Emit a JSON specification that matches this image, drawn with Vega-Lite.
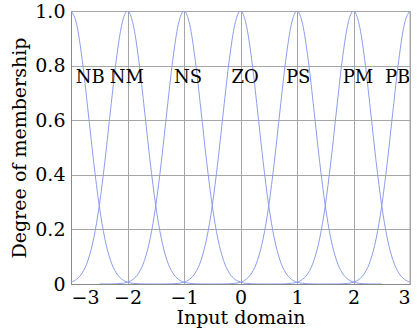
{
  "$schema": "https://vega.github.io/schema/vega-lite/v6.json",
  "width": 339,
  "height": 273,
  "autosize": {"type": "none"},
  "padding": {"left": 71, "top": 11, "right": 7, "bottom": 50},
  "background": "white",
  "config": {
    "view": {"stroke": null},
    "font": "DejaVu Serif"
  },
  "datasets": {
    "labels": [
      {"t": "NB", "x": -2.66, "y": 0.756},
      {"t": "NM", "x": -2.01, "y": 0.756},
      {"t": "NS", "x": -0.93, "y": 0.756},
      {"t": "ZO", "x": 0.08, "y": 0.756},
      {"t": "PS", "x": 1.02, "y": 0.756},
      {"t": "PM", "x": 2.08, "y": 0.756},
      {"t": "PB", "x": 2.78, "y": 0.756}
    ],
    "curves": [
      {"s":"NB","x":-3,"y":1},{"s":"NB","x":-2.9,"y":0.9512},{"s":"NB","x":-2.8,"y":0.8187},{"s":"NB","x":-2.7,"y":0.6376},{"s":"NB","x":-2.6,"y":0.4493},{"s":"NB","x":-2.5,"y":0.2865},{"s":"NB","x":-2.4,"y":0.1653},{"s":"NB","x":-2.3,"y":0.0863},{"s":"NB","x":-2.2,"y":0.0408},{"s":"NB","x":-2.1,"y":0.0174},{"s":"NB","x":-2,"y":0.0067},{"s":"NB","x":-1.9,"y":0.0024},{"s":"NB","x":-1.8,"y":0.0007},{"s":"NB","x":-1.7,"y":0.0002},{"s":"NB","x":-1.6,"y":0.0001},{"s":"NB","x":-1.5,"y":0},

      {"s":"NM","x":-3,"y":0.0067},{"s":"NM","x":-2.9,"y":0.0174},{"s":"NM","x":-2.8,"y":0.0408},{"s":"NM","x":-2.7,"y":0.0863},{"s":"NM","x":-2.6,"y":0.1653},{"s":"NM","x":-2.5,"y":0.2865},{"s":"NM","x":-2.4,"y":0.4493},{"s":"NM","x":-2.3,"y":0.6376},{"s":"NM","x":-2.2,"y":0.8187},{"s":"NM","x":-2.1,"y":0.9512},{"s":"NM","x":-2,"y":1},{"s":"NM","x":-1.9,"y":0.9512},{"s":"NM","x":-1.8,"y":0.8187},{"s":"NM","x":-1.7,"y":0.6376},{"s":"NM","x":-1.6,"y":0.4493},{"s":"NM","x":-1.5,"y":0.2865},{"s":"NM","x":-1.4,"y":0.1653},{"s":"NM","x":-1.3,"y":0.0863},{"s":"NM","x":-1.2,"y":0.0408},{"s":"NM","x":-1.1,"y":0.0174},{"s":"NM","x":-1,"y":0.0067},{"s":"NM","x":-0.9,"y":0.0024},{"s":"NM","x":-0.8,"y":0.0007},{"s":"NM","x":-0.7,"y":0.0002},{"s":"NM","x":-0.6,"y":0.0001},{"s":"NM","x":-0.5,"y":0},

      {"s":"NS","x":-2.5,"y":0},{"s":"NS","x":-2.4,"y":0.0001},{"s":"NS","x":-2.3,"y":0.0002},{"s":"NS","x":-2.2,"y":0.0007},{"s":"NS","x":-2.1,"y":0.0024},{"s":"NS","x":-2,"y":0.0067},{"s":"NS","x":-1.9,"y":0.0174},{"s":"NS","x":-1.8,"y":0.0408},{"s":"NS","x":-1.7,"y":0.0863},{"s":"NS","x":-1.6,"y":0.1653},{"s":"NS","x":-1.5,"y":0.2865},{"s":"NS","x":-1.4,"y":0.4493},{"s":"NS","x":-1.3,"y":0.6376},{"s":"NS","x":-1.2,"y":0.8187},{"s":"NS","x":-1.1,"y":0.9512},{"s":"NS","x":-1,"y":1},{"s":"NS","x":-0.9,"y":0.9512},{"s":"NS","x":-0.8,"y":0.8187},{"s":"NS","x":-0.7,"y":0.6376},{"s":"NS","x":-0.6,"y":0.4493},{"s":"NS","x":-0.5,"y":0.2865},{"s":"NS","x":-0.4,"y":0.1653},{"s":"NS","x":-0.3,"y":0.0863},{"s":"NS","x":-0.2,"y":0.0408},{"s":"NS","x":-0.1,"y":0.0174},{"s":"NS","x":0,"y":0.0067},{"s":"NS","x":0.1,"y":0.0024},{"s":"NS","x":0.2,"y":0.0007},{"s":"NS","x":0.3,"y":0.0002},{"s":"NS","x":0.4,"y":0.0001},{"s":"NS","x":0.5,"y":0},

      {"s":"ZO","x":-1.5,"y":0},{"s":"ZO","x":-1.4,"y":0.0001},{"s":"ZO","x":-1.3,"y":0.0002},{"s":"ZO","x":-1.2,"y":0.0007},{"s":"ZO","x":-1.1,"y":0.0024},{"s":"ZO","x":-1,"y":0.0067},{"s":"ZO","x":-0.9,"y":0.0174},{"s":"ZO","x":-0.8,"y":0.0408},{"s":"ZO","x":-0.7,"y":0.0863},{"s":"ZO","x":-0.6,"y":0.1653},{"s":"ZO","x":-0.5,"y":0.2865},{"s":"ZO","x":-0.4,"y":0.4493},{"s":"ZO","x":-0.3,"y":0.6376},{"s":"ZO","x":-0.2,"y":0.8187},{"s":"ZO","x":-0.1,"y":0.9512},{"s":"ZO","x":0,"y":1},{"s":"ZO","x":0.1,"y":0.9512},{"s":"ZO","x":0.2,"y":0.8187},{"s":"ZO","x":0.3,"y":0.6376},{"s":"ZO","x":0.4,"y":0.4493},{"s":"ZO","x":0.5,"y":0.2865},{"s":"ZO","x":0.6,"y":0.1653},{"s":"ZO","x":0.7,"y":0.0863},{"s":"ZO","x":0.8,"y":0.0408},{"s":"ZO","x":0.9,"y":0.0174},{"s":"ZO","x":1,"y":0.0067},{"s":"ZO","x":1.1,"y":0.0024},{"s":"ZO","x":1.2,"y":0.0007},{"s":"ZO","x":1.3,"y":0.0002},{"s":"ZO","x":1.4,"y":0.0001},{"s":"ZO","x":1.5,"y":0},

      {"s":"PS","x":-0.5,"y":0},{"s":"PS","x":-0.4,"y":0.0001},{"s":"PS","x":-0.3,"y":0.0002},{"s":"PS","x":-0.2,"y":0.0007},{"s":"PS","x":-0.1,"y":0.0024},{"s":"PS","x":0,"y":0.0067},{"s":"PS","x":0.1,"y":0.0174},{"s":"PS","x":0.2,"y":0.0408},{"s":"PS","x":0.3,"y":0.0863},{"s":"PS","x":0.4,"y":0.1653},{"s":"PS","x":0.5,"y":0.2865},{"s":"PS","x":0.6,"y":0.4493},{"s":"PS","x":0.7,"y":0.6376},{"s":"PS","x":0.8,"y":0.8187},{"s":"PS","x":0.9,"y":0.9512},{"s":"PS","x":1,"y":1},{"s":"PS","x":1.1,"y":0.9512},{"s":"PS","x":1.2,"y":0.8187},{"s":"PS","x":1.3,"y":0.6376},{"s":"PS","x":1.4,"y":0.4493},{"s":"PS","x":1.5,"y":0.2865},{"s":"PS","x":1.6,"y":0.1653},{"s":"PS","x":1.7,"y":0.0863},{"s":"PS","x":1.8,"y":0.0408},{"s":"PS","x":1.9,"y":0.0174},{"s":"PS","x":2,"y":0.0067},{"s":"PS","x":2.1,"y":0.0024},{"s":"PS","x":2.2,"y":0.0007},{"s":"PS","x":2.3,"y":0.0002},{"s":"PS","x":2.4,"y":0.0001},{"s":"PS","x":2.5,"y":0},

      {"s":"PM","x":0.5,"y":0},{"s":"PM","x":0.6,"y":0.0001},{"s":"PM","x":0.7,"y":0.0002},{"s":"PM","x":0.8,"y":0.0007},{"s":"PM","x":0.9,"y":0.0024},{"s":"PM","x":1,"y":0.0067},{"s":"PM","x":1.1,"y":0.0174},{"s":"PM","x":1.2,"y":0.0408},{"s":"PM","x":1.3,"y":0.0863},{"s":"PM","x":1.4,"y":0.1653},{"s":"PM","x":1.5,"y":0.2865},{"s":"PM","x":1.6,"y":0.4493},{"s":"PM","x":1.7,"y":0.6376},{"s":"PM","x":1.8,"y":0.8187},{"s":"PM","x":1.9,"y":0.9512},{"s":"PM","x":2,"y":1},{"s":"PM","x":2.1,"y":0.9512},{"s":"PM","x":2.2,"y":0.8187},{"s":"PM","x":2.3,"y":0.6376},{"s":"PM","x":2.4,"y":0.4493},{"s":"PM","x":2.5,"y":0.2865},{"s":"PM","x":2.6,"y":0.1653},{"s":"PM","x":2.7,"y":0.0863},{"s":"PM","x":2.8,"y":0.0408},{"s":"PM","x":2.9,"y":0.0174},{"s":"PM","x":3,"y":0.0067},

      {"s":"PB","x":1.5,"y":0},{"s":"PB","x":1.6,"y":0.0001},{"s":"PB","x":1.7,"y":0.0002},{"s":"PB","x":1.8,"y":0.0007},{"s":"PB","x":1.9,"y":0.0024},{"s":"PB","x":2,"y":0.0067},{"s":"PB","x":2.1,"y":0.0174},{"s":"PB","x":2.2,"y":0.0408},{"s":"PB","x":2.3,"y":0.0863},{"s":"PB","x":2.4,"y":0.1653},{"s":"PB","x":2.5,"y":0.2865},{"s":"PB","x":2.6,"y":0.4493},{"s":"PB","x":2.7,"y":0.6376},{"s":"PB","x":2.8,"y":0.8187},{"s":"PB","x":2.9,"y":0.9512},{"s":"PB","x":3,"y":1}
    ]
  },
  "layer": [
    {
      "data": {"name": "curves"},
      "mark": {"type": "line", "interpolate": "monotone", "color": "#8c9ded", "strokeWidth": 1, "clip": true},
      "encoding": {
        "x": {
          "field": "x", "type": "quantitative",
          "scale": {"domain": [-3, 3], "nice": false, "zero": false},
          "axis": {
            "title": "Input domain",
            "values": [-3, -2, -1, 0, 1, 2, 3],
            "format": "d",
            "grid": true, "gridColor": "#a6a6a6", "gridWidth": 1, "gridOpacity": 1,
            "domainColor": "#8a8a8a", "domainWidth": 1,
            "ticks": false,
            "labelFont": "DejaVu Serif", "labelFontSize": 19, "labelColor": "#000", "labelPadding": 4,
            "titleFont": "DejaVu Serif", "titleFontSize": 19, "titleFontWeight": "normal", "titleColor": "#000", "titlePadding": 1
          }
        },
        "y": {
          "field": "y", "type": "quantitative",
          "scale": {"domain": [0, 1], "nice": false},
          "axis": {
            "title": "Degree of membership",
            "values": [0, 0.2, 0.4, 0.6, 0.8, 1],
            "labelExpr": "datum.value == 0 ? '0' : format(datum.value, '.1f')",
            "grid": true, "gridColor": "#a6a6a6", "gridWidth": 1, "gridOpacity": 1,
            "domainColor": "#8a8a8a", "domainWidth": 1,
            "ticks": false,
            "labelFont": "DejaVu Serif", "labelFontSize": 19, "labelColor": "#000", "labelPadding": 6,
            "titleFont": "DejaVu Serif", "titleFontSize": 19, "titleFontWeight": "normal", "titleColor": "#000", "titlePadding": 5
          }
        },
        "detail": {"field": "s", "type": "nominal"}
      }
    },
    {
      "data": {"name": "labels"},
      "mark": {"type": "text", "font": "DejaVu Serif", "fontSize": 18, "color": "#000", "baseline": "middle", "align": "center"},
      "encoding": {
        "x": {"field": "x", "type": "quantitative"},
        "y": {"field": "y", "type": "quantitative"},
        "text": {"field": "t", "type": "nominal"}
      }
    },
    {
      "data": {"values": [{"a": 1}]},
      "mark": {"type": "rule", "color": "#a6a6a6", "strokeWidth": 1},
      "encoding": {"x": {"datum": 3, "type": "quantitative"}, "y": {"datum": 0, "type": "quantitative"}, "y2": {"datum": 1}}
    }
  ]
}
